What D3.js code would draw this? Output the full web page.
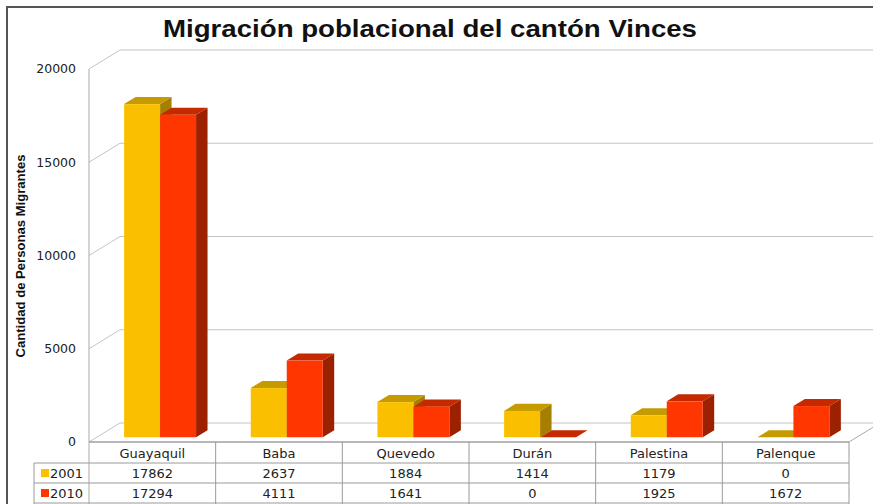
<!DOCTYPE html>
<html>
<head>
<meta charset="utf-8">
<script src="https://cdn.jsdelivr.net/npm/d3@7"></script>
<style>
  html, body { margin: 0; padding: 0; background: #fff; }
  svg { display: block; }
</style>
</head>
<body>
<div id="chart"></div>
<script>
const categories = ['Guayaquil', 'Baba', 'Quevedo', 'Durán', 'Palestina', 'Palenque'];
const years = ['2001', '2010'];
const values2001 = [17862, 2637, 1884, 1414, 1179, 0];
const values2010 = [17294, 4111, 1641, 0, 1925, 1672];
const yTicks = [0, 5000, 10000, 15000, 20000];

const W = 873, H = 504;
const DX = 31, DY = -19;          // full depth of the 3D box
const floorY = 442;               // front edge of floor
const z0 = 0.25, z1 = 0.62;       // bar depth range

const colors = {
	'2001': {front: '#fac000', top: '#c59b00', side: '#a67f00', key: '#fac000'},
	'2010': {front: '#ff3600', top: '#c42900', side: '#9c2100', key: '#ff3600'}
};

const svg = d3.select('#chart').append('svg').attr('width', W).attr('height', H);

const x = d3.scaleBand().domain(categories).range([89, 849]);
const xs = d3.scaleBand().domain(years).range([0, x.bandwidth()]).paddingOuter(0.76);
const h = d3.scaleLinear().domain([0, 20000]).range([0, 373]);

// project (screen x at front, value, depth fraction) to screen
const P = (px, v, z) => [px + z * DX, floorY + z * DY - h(v)];
const poly = pts => pts.map(p => p.join(',')).join(' ');

// outer frame
svg.append('rect').attr('x', 7).attr('y', 7).attr('width', W + 20).attr('height', H + 20)
	.style('fill', 'none').style('stroke', '#555').style('stroke-width', 2);

// title
svg.append('text').attr('x', 430).attr('y', 37)
	.attr('text-anchor', 'middle')
	.attr('textLength', 534).attr('lengthAdjust', 'spacingAndGlyphs')
	.style('font-family', 'Liberation Sans, Arial, sans-serif')
	.style('font-weight', 'bold').style('font-size', '24px').style('fill', '#111')
	.text('Migración poblacional del cantón Vinces');

// y axis title
svg.append('text').attr('transform', 'translate(25,256) rotate(-90)')
	.attr('text-anchor', 'middle')
	.attr('textLength', 203).attr('lengthAdjust', 'spacingAndGlyphs')
	.style('font-family', 'Liberation Sans, Arial, sans-serif')
	.style('font-weight', 'bold').style('font-size', '12px').style('fill', '#111')
	.text('Cantidad de Personas Migrantes');

const walls = svg.append('g').attr('class', 'walls');
const xL = x.range()[0], xR = x.range()[1];

// gridlines on back wall and left wall
yTicks.forEach(t => {
	const a = P(xL, t, 0), b = P(xL, t, 1), c = P(xR, t, 1);
	walls.append('polyline').attr('points', poly([a, b, c]))
		.style('fill', 'none').style('stroke', '#c4c4c4').style('stroke-width', 1);
});
// front-left vertical edge
walls.append('line')
	.attr('x1', xL).attr('x2', xL).attr('y1', P(xL, 20000, 0)[1]).attr('y2', H)
	.style('stroke', '#aaa').style('stroke-width', 1);
// floor front + right edge
walls.append('polyline').attr('points', poly([P(xL, 0, 0), P(xR, 0, 0), P(xR, 0, 1)]))
	.style('fill', 'none').style('stroke', '#aaa').style('stroke-width', 1);

// tick labels
svg.append('g').selectAll('text').data(yTicks).enter().append('text')
	.attr('x', 76).attr('y', d => P(xL, d, 0)[1]).attr('dy', '0.35em')
	.attr('text-anchor', 'end')
	.style('font-family', 'DejaVu Sans, sans-serif').style('font-size', '12.5px').style('fill', '#222')
	.text(d => d);

// bars
const series = {'2001': values2001, '2010': values2010};
const bars = [];
categories.forEach((c, i) => years.forEach(yr => bars.push({cat: c, year: yr, value: series[yr][i]})));

const gBars = svg.append('g').attr('class', 'bars');
bars.forEach(d => {
	const xa = x(d.cat) + xs(d.year), xb = xa + xs.bandwidth();
	const col = colors[d.year];
	const g = gBars.append('g');
	// side
	g.append('polygon').attr('points', poly([P(xb, 0, z0), P(xb, 0, z1), P(xb, d.value, z1), P(xb, d.value, z0)]))
		.style('fill', col.side);
	// top
	g.append('polygon').attr('points', poly([P(xa, d.value, z0), P(xa, d.value, z1), P(xb, d.value, z1), P(xb, d.value, z0)]))
		.style('fill', col.top);
	// front
	if (d.value > 0) {
		const p = P(xa, d.value, z0);
		g.append('rect').attr('x', p[0]).attr('y', p[1])
			.attr('width', xs.bandwidth()).attr('height', h(d.value))
			.style('fill', col.front);
	}
});

// data table
const tbl = svg.append('g').attr('class', 'table');
const rowTop = [442, 463, 483, 503];
const lineStyle = s => s.style('stroke', '#9a9a9a').style('stroke-width', 1);
lineStyle(tbl.append('line').attr('x1', xL).attr('x2', xR).attr('y1', rowTop[0]).attr('y2', rowTop[0]));
[1, 2, 3].forEach(k => lineStyle(tbl.append('line').attr('x1', 34).attr('x2', xR).attr('y1', rowTop[k]).attr('y2', rowTop[k])));
categories.forEach(c => lineStyle(tbl.append('line').attr('x1', x(c) + x.bandwidth()).attr('x2', x(c) + x.bandwidth()).attr('y1', rowTop[0]).attr('y2', H)));
lineStyle(tbl.append('line').attr('x1', 34).attr('x2', 34).attr('y1', rowTop[1]).attr('y2', H));

const txt = s => s.attr('text-anchor', 'middle')
	.style('font-family', 'DejaVu Sans, sans-serif').style('font-size', '13px').style('fill', '#222');

tbl.append('g').selectAll('text').data(categories).enter().append('text')
	.attr('x', d => x(d) + x.bandwidth() / 2).attr('y', (rowTop[0] + rowTop[1]) / 2 + 5)
	.call(txt).text(d => d);

years.forEach((yr, k) => {
	const cy = (rowTop[k + 1] + rowTop[k + 2]) / 2;
	tbl.append('g').selectAll('text').data(series[yr]).enter().append('text')
		.attr('x', (d, i) => x(categories[i]) + x.bandwidth() / 2).attr('y', cy + 5)
		.call(txt).text(d => d);
	tbl.append('rect').attr('x', 41).attr('y', cy - 4).attr('width', 8).attr('height', 8)
		.style('fill', colors[yr].key);
	tbl.append('text').attr('x', 50).attr('y', cy + 5)
		.style('font-family', 'DejaVu Sans, sans-serif').style('font-size', '13px').style('fill', '#222')
		.text(yr);
});
</script>
</body>
</html>
